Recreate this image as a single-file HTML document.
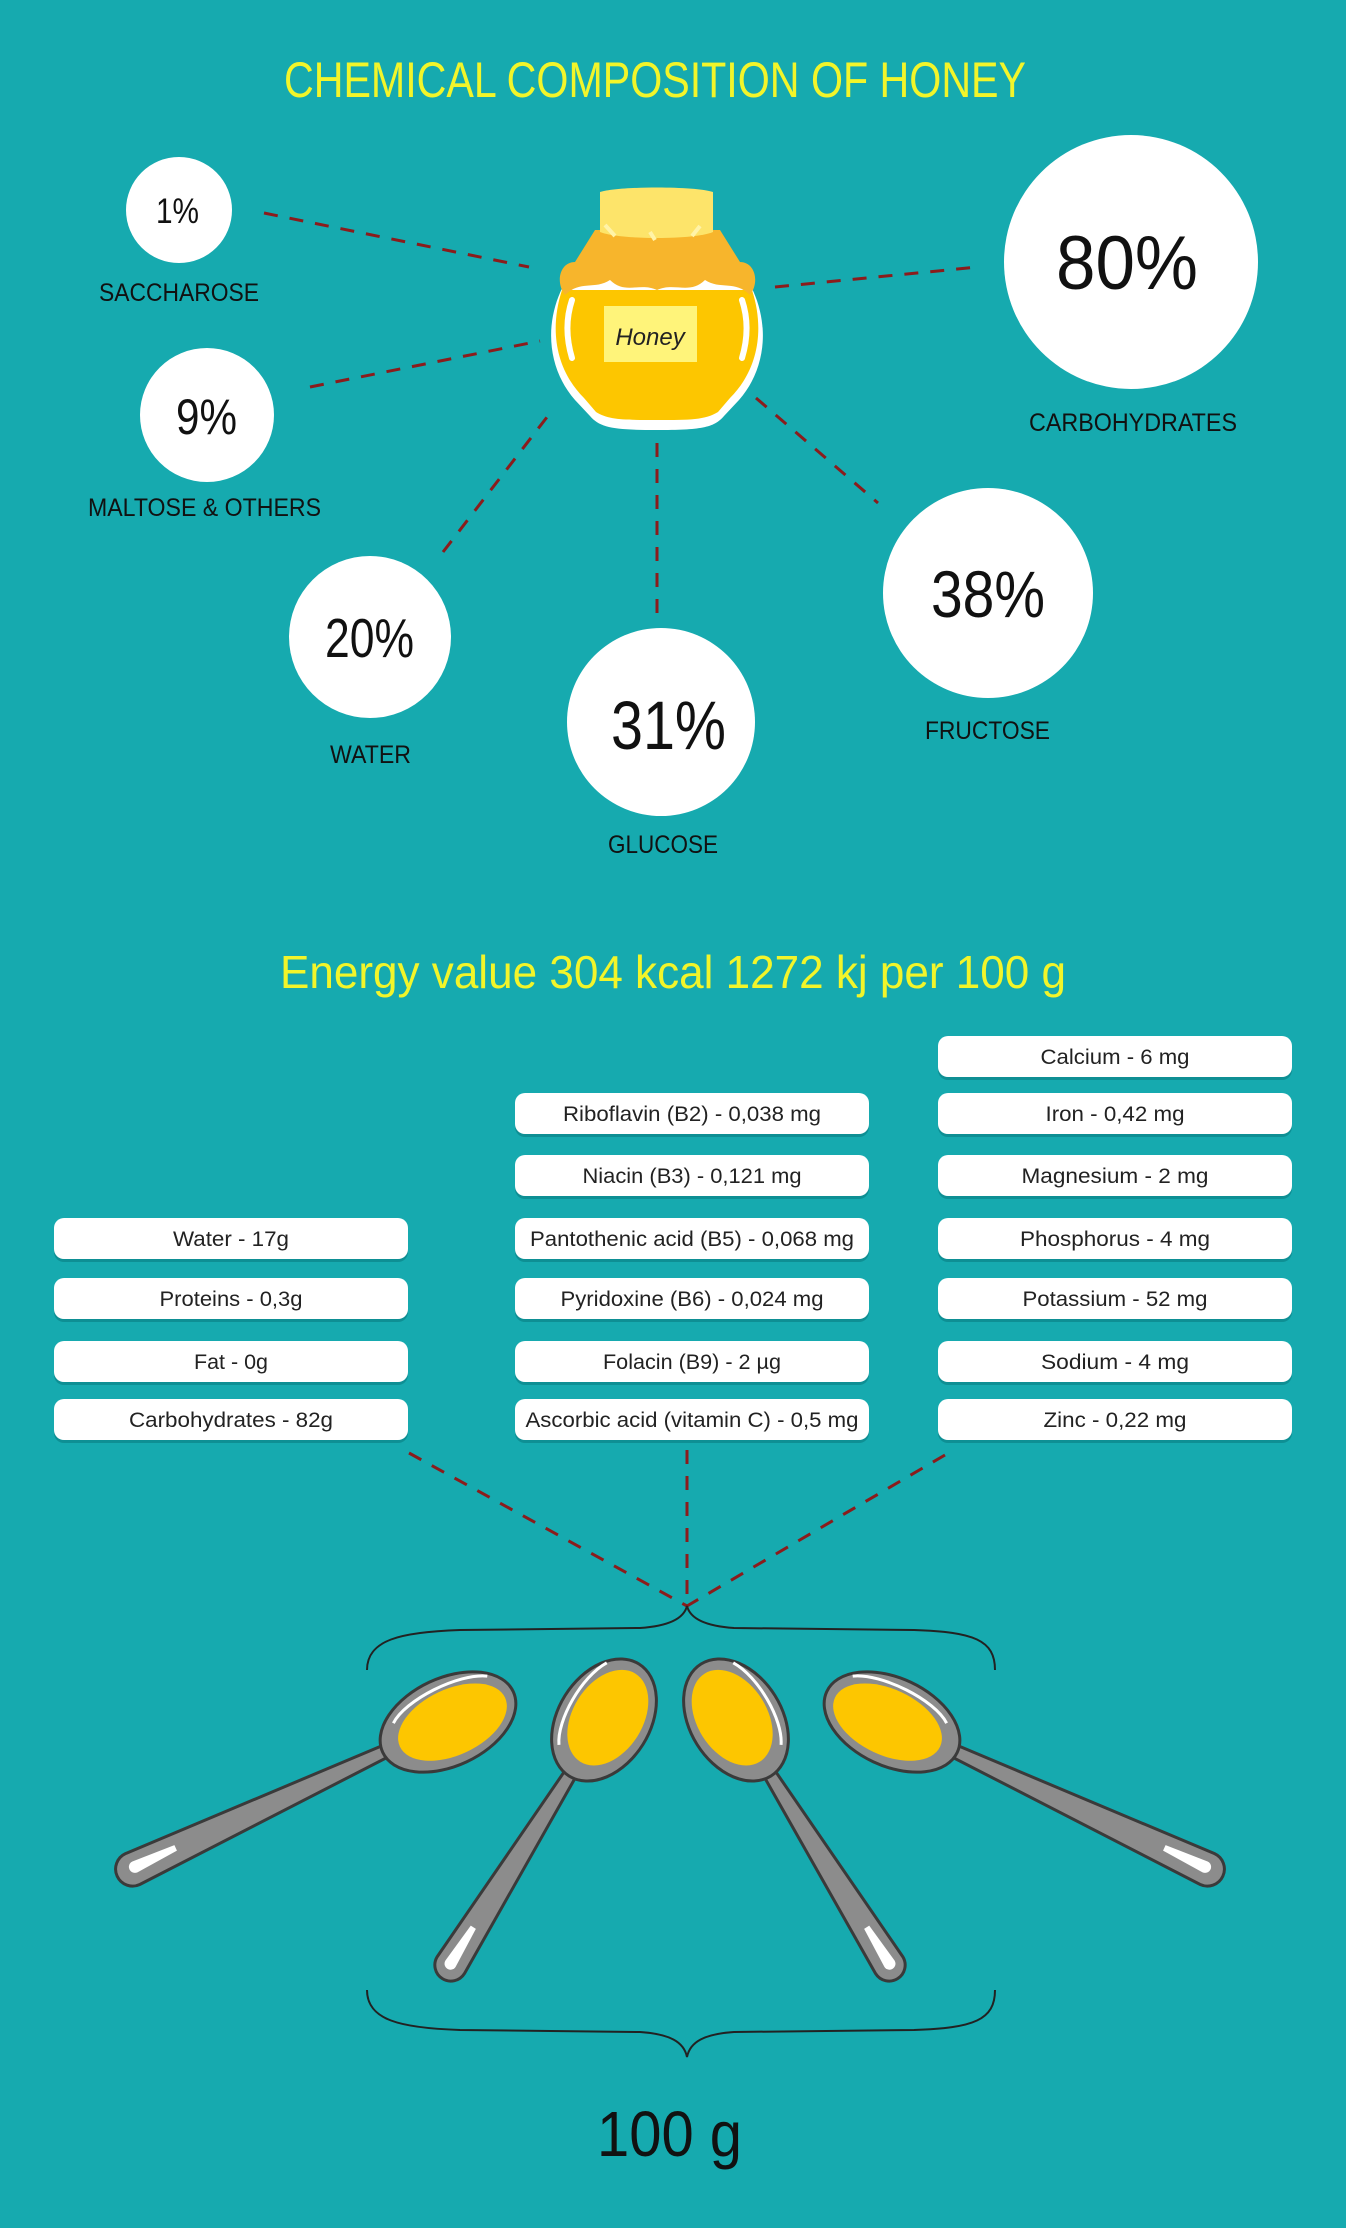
<!DOCTYPE html>
<html><head><meta charset="utf-8"><style>
html,body{margin:0;padding:0;background:#16aaaf;}
svg{display:block;}
text{font-family:"Liberation Sans",sans-serif;}
</style></head><body>
<svg width="1346" height="2228" viewBox="0 0 1346 2228" xmlns="http://www.w3.org/2000/svg">
<rect width="1346" height="2228" fill="#16aaaf"/>
<text x="284" y="97" font-size="50" fill="#f2f52a" textLength="742" lengthAdjust="spacingAndGlyphs">CHEMICAL COMPOSITION OF HONEY</text>

<g stroke="#8b1c1c" stroke-width="3" stroke-dasharray="14,12" fill="none">
<line x1="264" y1="213" x2="529" y2="267"/>
<line x1="775" y1="287" x2="978" y2="267"/>
<line x1="310" y1="387" x2="540" y2="341"/>
<line x1="443" y1="552" x2="554" y2="408"/>
<line x1="657" y1="443" x2="657" y2="618"/>
<line x1="756" y1="398" x2="878" y2="503"/>
<line x1="409" y1="1453" x2="687" y2="1606"/>
<line x1="687" y1="1450" x2="687" y2="1599"/>
<line x1="945" y1="1455" x2="687" y2="1606"/>
</g>

<g fill="#fff">
<circle cx="179" cy="210" r="53"/>
<circle cx="207" cy="415" r="67"/>
<circle cx="370" cy="637" r="81"/>
<circle cx="661" cy="722" r="94"/>
<circle cx="988" cy="593" r="105"/>
<circle cx="1131" cy="262" r="127"/>
</g>
<g fill="#111">
<text x="156" y="223" font-size="35" textLength="43" lengthAdjust="spacingAndGlyphs">1%</text>
<text x="176" y="434" font-size="50" textLength="61" lengthAdjust="spacingAndGlyphs">9%</text>
<text x="325" y="657" font-size="55" textLength="89" lengthAdjust="spacingAndGlyphs">20%</text>
<text x="611" y="749" font-size="69" textLength="115" lengthAdjust="spacingAndGlyphs">31%</text>
<text x="931" y="617" font-size="66" textLength="114" lengthAdjust="spacingAndGlyphs">38%</text>
<text x="1056" y="289" font-size="76" textLength="142" lengthAdjust="spacingAndGlyphs">80%</text>
<g font-size="25">
<text x="99" y="301" textLength="160" lengthAdjust="spacingAndGlyphs">SACCHAROSE</text>
<text x="88" y="516" textLength="233" lengthAdjust="spacingAndGlyphs">MALTOSE &amp; OTHERS</text>
<text x="330" y="763" textLength="81" lengthAdjust="spacingAndGlyphs">WATER</text>
<text x="608" y="853" textLength="110" lengthAdjust="spacingAndGlyphs">GLUCOSE</text>
<text x="925" y="739" textLength="125" lengthAdjust="spacingAndGlyphs">FRUCTOSE</text>
<text x="1029" y="431" textLength="208" lengthAdjust="spacingAndGlyphs">CARBOHYDRATES</text>
</g>
</g>

<!-- jar -->
<g>
<path d="M580,262 C545,300 540,360 575,400 L590,416 C600,428 615,430 657,430 C700,430 714,428 724,416 L739,400 C774,360 769,300 734,262 Z" fill="#fff"/>
<path d="M562,290 L752,290 C765,330 758,370 730,398 L718,412 C705,420 690,420 657,420 C624,420 609,420 596,412 L584,398 C556,370 549,330 562,290 Z" fill="#fdc600"/>
<path d="M572,300 C566,318 566,338 572,358" stroke="#fff" stroke-width="6" fill="none" stroke-linecap="round"/>
<path d="M742,300 C748,318 748,338 742,358" stroke="#fff" stroke-width="6" fill="none" stroke-linecap="round"/>
<rect x="604" y="306" width="93" height="56" fill="#fff47a"/>
<text x="650" y="345" font-family="'DejaVu Serif',serif" font-style="italic" font-size="24" fill="#222" text-anchor="middle">Honey</text>
<path d="M575,262 C560,262 555,282 565,295 C580,280 595,290 610,280 C625,295 640,282 657,290 C674,282 690,295 705,280 C720,290 735,280 750,295 C760,282 755,262 740,262 L720,230 L595,230 Z" fill="#f7b52c"/>
<path d="M600,192 C620,186 695,186 713,192 L713,232 C695,240 620,240 600,232 Z" fill="#fde46a"/>
<path d="M605,225 L615,236 M650,232 L655,240 M700,226 L692,236" stroke="#fff3a8" stroke-width="4"/>
</g>

<text x="280" y="988" font-size="46" fill="#f2f52a" textLength="786" lengthAdjust="spacingAndGlyphs">Energy value 304 kcal 1272 kj per 100 g</text>

<g>
<g fill="#0e8f94">
<rect x="54" y="1221" width="354" height="41" rx="10"/><rect x="54" y="1281" width="354" height="41" rx="10"/><rect x="54" y="1344" width="354" height="41" rx="10"/><rect x="54" y="1402" width="354" height="41" rx="10"/>
<rect x="515" y="1096" width="354" height="41" rx="10"/><rect x="515" y="1158" width="354" height="41" rx="10"/><rect x="515" y="1221" width="354" height="41" rx="10"/><rect x="515" y="1281" width="354" height="41" rx="10"/><rect x="515" y="1344" width="354" height="41" rx="10"/><rect x="515" y="1402" width="354" height="41" rx="10"/>
<rect x="938" y="1039" width="354" height="41" rx="10"/><rect x="938" y="1096" width="354" height="41" rx="10"/><rect x="938" y="1158" width="354" height="41" rx="10"/><rect x="938" y="1221" width="354" height="41" rx="10"/><rect x="938" y="1281" width="354" height="41" rx="10"/><rect x="938" y="1344" width="354" height="41" rx="10"/><rect x="938" y="1402" width="354" height="41" rx="10"/>
</g>
<g fill="#fff">
<rect x="54" y="1218" width="354" height="41" rx="10"/><rect x="54" y="1278" width="354" height="41" rx="10"/><rect x="54" y="1341" width="354" height="41" rx="10"/><rect x="54" y="1399" width="354" height="41" rx="10"/>
<rect x="515" y="1093" width="354" height="41" rx="10"/><rect x="515" y="1155" width="354" height="41" rx="10"/><rect x="515" y="1218" width="354" height="41" rx="10"/><rect x="515" y="1278" width="354" height="41" rx="10"/><rect x="515" y="1341" width="354" height="41" rx="10"/><rect x="515" y="1399" width="354" height="41" rx="10"/>
<rect x="938" y="1036" width="354" height="41" rx="10"/><rect x="938" y="1093" width="354" height="41" rx="10"/><rect x="938" y="1155" width="354" height="41" rx="10"/><rect x="938" y="1218" width="354" height="41" rx="10"/><rect x="938" y="1278" width="354" height="41" rx="10"/><rect x="938" y="1341" width="354" height="41" rx="10"/><rect x="938" y="1399" width="354" height="41" rx="10"/>
</g>
<g font-size="21" fill="#222" text-anchor="middle" lengthAdjust="spacingAndGlyphs">
<text x="231" y="1246" textLength="116" lengthAdjust="spacingAndGlyphs">Water - 17g</text>
<text x="231" y="1306" textLength="143" lengthAdjust="spacingAndGlyphs">Proteins - 0,3g</text>
<text x="231" y="1369" textLength="74" lengthAdjust="spacingAndGlyphs">Fat - 0g</text>
<text x="231" y="1427" textLength="204" lengthAdjust="spacingAndGlyphs">Carbohydrates - 82g</text>
<text x="692" y="1121" textLength="258" lengthAdjust="spacingAndGlyphs">Riboflavin (B2) - 0,038 mg</text>
<text x="692" y="1183" textLength="219" lengthAdjust="spacingAndGlyphs">Niacin (B3) - 0,121 mg</text>
<text x="692" y="1246" textLength="324" lengthAdjust="spacingAndGlyphs">Pantothenic acid (B5) - 0,068 mg</text>
<text x="692" y="1306" textLength="263" lengthAdjust="spacingAndGlyphs">Pyridoxine (B6) - 0,024 mg</text>
<text x="692" y="1369" textLength="178" lengthAdjust="spacingAndGlyphs">Folacin (B9) - 2 µg</text>
<text x="692" y="1427" textLength="333" lengthAdjust="spacingAndGlyphs">Ascorbic acid (vitamin C) - 0,5 mg</text>
<text x="1115" y="1064" textLength="149" lengthAdjust="spacingAndGlyphs">Calcium - 6 mg</text>
<text x="1115" y="1121" textLength="139" lengthAdjust="spacingAndGlyphs">Iron - 0,42 mg</text>
<text x="1115" y="1183" textLength="187" lengthAdjust="spacingAndGlyphs">Magnesium - 2 mg</text>
<text x="1115" y="1246" textLength="190" lengthAdjust="spacingAndGlyphs">Phosphorus - 4 mg</text>
<text x="1115" y="1306" textLength="185" lengthAdjust="spacingAndGlyphs">Potassium - 52 mg</text>
<text x="1115" y="1369" textLength="148" lengthAdjust="spacingAndGlyphs">Sodium - 4 mg</text>
<text x="1115" y="1427" textLength="143" lengthAdjust="spacingAndGlyphs">Zinc - 0,22 mg</text>
</g>
</g>

<!-- braces -->
<g stroke="#222" stroke-width="2" fill="none">
<path d="M367,1670 C367,1640 400,1632 460,1630 L640,1628 C670,1626 684,1618 687,1606 C690,1618 704,1626 734,1628 L914,1630 C974,1632 995,1640 995,1670"/>
<path d="M367,1990 C367,2020 400,2028 460,2030 L640,2032 C670,2034 684,2042 687,2057 C690,2042 704,2034 734,2032 L914,2030 C974,2028 995,2020 995,1990"/>
</g>

<defs>
<g id="sp1">
<path d="M-60,-6 L-348,-17 A17,17 0 0 0 -348,17 L-60,6 Z" fill="#8c8c8c" stroke="#3a3a3a" stroke-width="3"/>
<path d="M-300,-4 L-345,-7 A6,6 0 0 0 -345,5 L-300,2 Z" fill="#fff"/>
<ellipse cx="0" cy="0" rx="72" ry="44" fill="#8c8c8c" stroke="#3a3a3a" stroke-width="3"/>
<ellipse cx="4" cy="2" rx="58" ry="33" fill="#fdc600"/>
<path d="M-50,-22 C-30,-38 30,-40 55,-25" stroke="#fff" stroke-width="3" fill="none"/>
</g>
<g id="sp2">
<path d="M-58,-6 L-289,-16 A16,16 0 0 0 -289,16 L-58,6 Z" fill="#8c8c8c" stroke="#3a3a3a" stroke-width="3"/>
<path d="M-245,-4 L-288,-7 A6,6 0 0 0 -288,5 L-245,2 Z" fill="#fff"/>
<ellipse cx="0" cy="0" rx="66" ry="46" fill="#8c8c8c" stroke="#3a3a3a" stroke-width="3"/>
<ellipse cx="4" cy="2" rx="52" ry="35" fill="#fdc600"/>
<path d="M-45,-25 C-25,-40 25,-42 50,-28" stroke="#fff" stroke-width="3" fill="none"/>
</g>
</defs>
<use href="#sp1" transform="translate(448,1722) rotate(-25)"/>
<use href="#sp2" transform="translate(604,1720) rotate(-58)"/>
<g transform="translate(1340,0) scale(-1,1)">
<use href="#sp1" transform="translate(448,1722) rotate(-25)"/>
<use href="#sp2" transform="translate(604,1720) rotate(-58)"/>
</g>

<text x="597" y="2156" font-size="64" fill="#111" textLength="145" lengthAdjust="spacingAndGlyphs">100 g</text>
</svg>
</body></html>
